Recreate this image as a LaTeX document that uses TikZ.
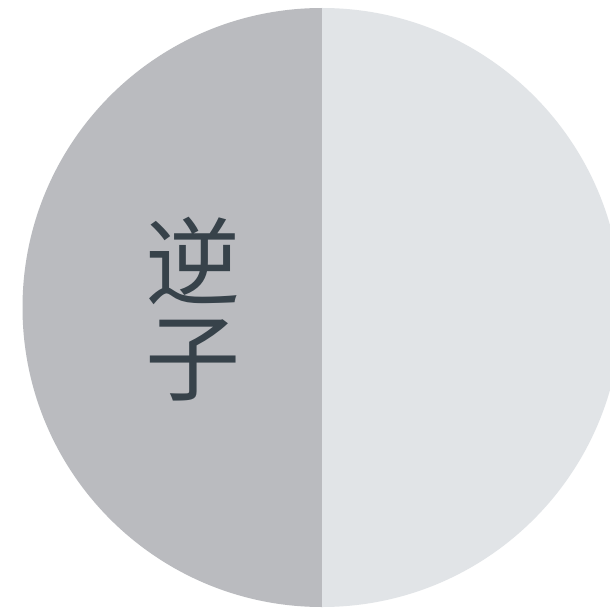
\documentclass[tikz,border=0pt]{standalone}
\usepackage{fontspec}
\newfontfamily\cjk{Noto Sans CJK SC}
\definecolor{leftgray}{HTML}{BABBBF}
\definecolor{rightgray}{HTML}{E1E4E7}
\definecolor{textdark}{HTML}{37424A}
\tikzset{glyph/.style={inner sep=0pt, text=textdark, font=\cjk\fontsize{95}{95}\selectfont}}
\begin{document}
\begin{tikzpicture}[x=1pt,y=-1pt]
\useasboundingbox (0,0) rectangle (610,610);
\fill[white] (0,0) rectangle (610,610);
\begin{scope}
\clip (0,0) rectangle (610,610);
\fill[leftgray] (322,307.5) ++(90:299.5) arc[start angle=90, end angle=270, radius=299.5] -- cycle;
\fill[rightgray] (322,307.5) ++(-90:299.5) arc[start angle=-90, end angle=90, radius=299.5] -- cycle;
\end{scope}
\node[glyph] (c1) at (193,261) {逆};
\node[glyph] (c2) at (193,360) {子};
\end{tikzpicture}
\end{document}
